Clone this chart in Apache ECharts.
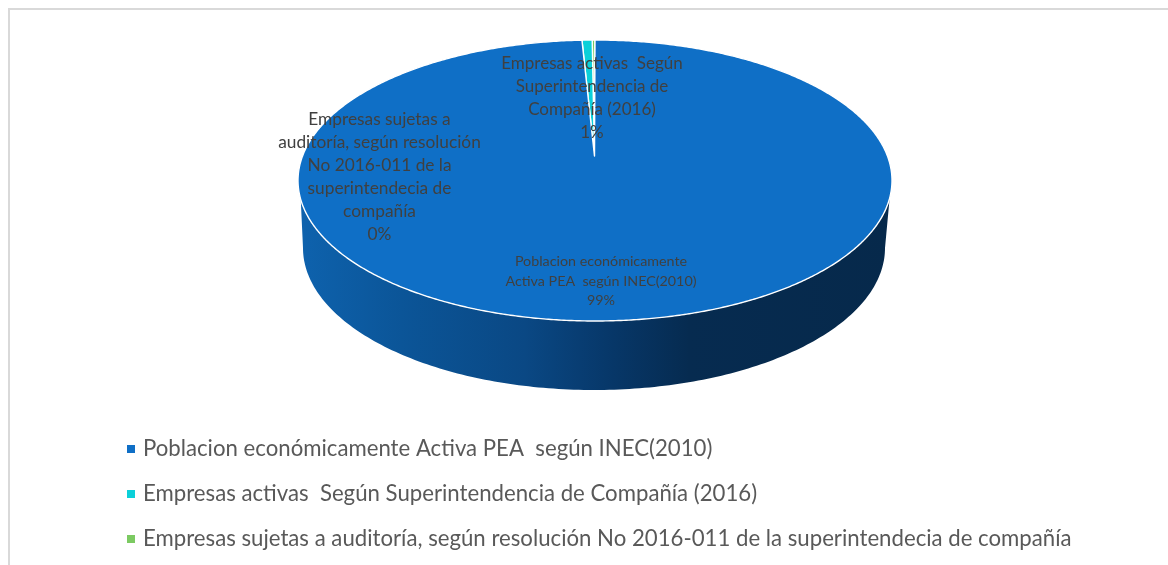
<!DOCTYPE html>
<html><head><meta charset="utf-8">
<style>html,body{margin:0;padding:0;background:#fff}#c{width:1168px;height:565px}</style>
<script src="https://cdn.jsdelivr.net/npm/echarts@6/dist/echarts.min.js"></script>
</head><body><div id="c"></div>
<script>
const categories = [
  'Poblacion económicamente Activa PEA  según INEC(2010)',
  'Empresas activas  Según Superintendencia de Compañía (2016)',
  'Empresas sujetas a auditoría, según resolución No 2016-011 de la superintendecia de compañía'
];
const values = [99.3, 0.55, 0.15];
const sliceColors = ['#0F6FC6', '#0BD0D9', '#7CCA62'];
const labelLines = [
  ['Poblacion económicamente', 'Activa PEA  según INEC(2010)'],
  ['Empresas activas  Según', 'Superintendencia de', 'Compañía (2016)'],
  ['Empresas sujetas a', 'auditoría, según resolución', 'No 2016-011 de la', 'superintendecia de', 'compañía']
];

const FONT = 'Lato, Carlito, Calibri, sans-serif';
const top3d = {cx: 595, cy: 180.5, rx: 297, ry: 140.5, ax: 594.5, ay: 156};
const low3d = {cx: 594, cy: 248, rx: 291, ry: 142};
const labelLayout = [
  {x: 601, y: 281, size: 14.3, lh: 19.5},
  {x: 592, y: 98, size: 17, lh: 23},
  {x: 379.5, y: 177, size: 17.3, lh: 23}
];
const total = values.reduce((a, b) => a + b, 0);
const rad = d => d * Math.PI / 180;

function perim(e, t) { return [e.cx + e.rx * Math.sin(t), e.cy - e.ry * Math.cos(t)]; }

function wallPoints() {
  const pts = [];
  const phi = 97.2;
  for (let d = phi; d <= 360 - phi + 0.01; d += 1) pts.push(perim(top3d, rad(d)));
  for (let d = 270; d >= 90; d -= 1) pts.push(perim(low3d, rad(d)));
  return pts;
}

function makeRender(i) {
  return function (params, api) {
    const v = api.value(0);
    let before = 0;
    for (let k = 0; k < i; k++) before += values[k];
    const a0 = before / total * Math.PI * 2;
    const a1 = (before + v) / total * Math.PI * 2;
    const pts = [[top3d.ax, top3d.ay]];
    const n = Math.max(2, Math.ceil((a1 - a0) / rad(0.5)));
    for (let s = 0; s <= n; s++) pts.push(perim(top3d, a0 + (a1 - a0) * s / n));
    const children = [];
    if (i === 0) {
      children.push({
        type: 'polygon', shape: {points: wallPoints()}, z2: 1,
        style: {
          fill: new echarts.graphic.LinearGradient(0, 0, 1, 0, [
            {offset: 0, color: '#0E62AD'},
            {offset: 0.17, color: '#0B5598'},
            {offset: 0.38, color: '#0A4884'},
            {offset: 0.52, color: '#07386A'},
            {offset: 0.66, color: '#062B50'},
            {offset: 1, color: '#06294B'}
          ]),
          stroke: null
        }
      });
    }
    children.push({
      type: 'polygon', shape: {points: pts}, z2: 5 - i,
      style: {fill: sliceColors[i], stroke: '#ffffff', lineWidth: 1.4, lineJoin: 'round'}
    });
    const L = labelLayout[i];
    const pct = Math.round(v / total * 100) + '%';
    children.push({
      type: 'text', z2: 20,
      style: {
        text: labelLines[i].concat(pct).join('\n'),
        x: L.x, y: L.y, align: 'center', verticalAlign: 'middle',
        font: L.size + 'px ' + FONT, lineHeight: L.lh, fill: '#404040'
      }
    });
    return {type: 'group', children};
  };
}

const chart = echarts.init(document.getElementById('c'), null, {renderer: 'canvas'});
chart.setOption({
  animation: false,
  backgroundColor: '#ffffff',
  legend: {
    orient: 'vertical', left: 122, top: 433, itemGap: 23,
    itemWidth: 8, itemHeight: 8, icon: 'rect', selectedMode: false,
    data: categories,
    textStyle: {fontFamily: FONT, fontSize: 22.2, color: '#595959', padding: [0, 0, 0, 3]}
  },
  graphic: [
    {type: 'rect', shape: {x: 8, y: 8, width: 1160, height: 2}, style: {fill: '#D9D9D9'}, silent: true},
    {type: 'rect', shape: {x: 8, y: 8, width: 2, height: 557}, style: {fill: '#D9D9D9'}, silent: true}
  ],
  series: categories.map((name, i) => ({
    type: 'custom', name, coordinateSystem: 'none',
    itemStyle: {color: sliceColors[i]},
    data: [[values[i]]],
    renderItem: makeRender(i),
    silent: true
  }))
});
</script></body></html>
